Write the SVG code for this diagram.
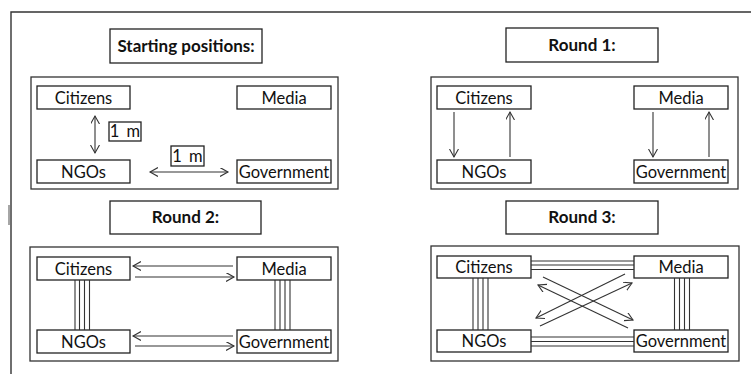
<svg xmlns="http://www.w3.org/2000/svg" width="751" height="374" viewBox="0 0 751 374">
<style>
.bx{fill:#fff;stroke:#222;stroke-width:1.3}
.pn{fill:none;stroke:#333;stroke-width:1.3}
.t{font-family:Lato,"Open Sans","Liberation Sans",sans-serif;font-size:16.5px;fill:#111;text-anchor:middle}
.tb{font-family:Lato,"Open Sans","Liberation Sans",sans-serif;font-size:17px;font-weight:bold;fill:#111;text-anchor:middle}
.ln{stroke:#333;stroke-width:1.1;fill:none}
.ar{stroke:#333;stroke-width:1.1;fill:none;marker-end:url(#ah)}
.da{stroke:#333;stroke-width:1.1;fill:none;marker-end:url(#ah);marker-start:url(#ah)}
</style>
<defs>
<marker id="ah" markerUnits="userSpaceOnUse" markerWidth="12" markerHeight="12" refX="8" refY="4.5" orient="auto-start-reverse" viewBox="0 0 12 12">
<path d="M0,0 L8,4.5 L0,9" fill="none" stroke="#333" stroke-width="1.1"/>
</marker>
</defs>
<rect width="751" height="374" fill="#fff"/>
<g id="frame">
<path d="M11,374 V12 H751" fill="none" stroke="#333" stroke-width="1.4"/>
<line x1="9" y1="205" x2="9" y2="225" stroke="#888" stroke-width="1.5"/>
</g>

<!-- Starting positions -->
<g id="title-start"><rect class="bx" x="110" y="29" width="152" height="34"/><text class="tb" x="186" y="52">Starting positions:</text></g>
<g id="panel-start"><rect class="pn" x="31" y="77" width="307" height="112"/></g>
<g id="s-citizens"><rect class="bx" x="37" y="86" width="93" height="23"/><text class="t" x="83.5" y="103.5">Citizens</text></g>
<g id="s-media"><rect class="bx" x="237" y="86" width="94" height="23"/><text class="t" x="284" y="103.5">Media</text></g>
<g id="s-ngos"><rect class="bx" x="37" y="160" width="93" height="23"/><text class="t" x="83.5" y="177.5">NGOs</text></g>
<g id="s-government"><rect class="bx" x="237" y="160" width="94" height="23"/><text class="t" x="284" y="177.5">Government</text></g>
<g id="s-label1"><rect class="bx" x="109" y="122" width="32" height="19"/><text class="t" x="125" y="137" word-spacing="3">1 m</text></g>
<g id="s-label2"><rect class="bx" x="171" y="146" width="33" height="20"/><text class="t" x="187.5" y="161.5" word-spacing="3">1 m</text></g>

<!-- Round 1 -->
<g id="title-r1"><rect class="bx" x="506" y="28" width="152" height="34"/><text class="tb" x="582" y="51">Round 1:</text></g>
<g id="panel-r1"><rect class="pn" x="431" y="77" width="307" height="112"/></g>
<g id="r1-citizens"><rect class="bx" x="437" y="86" width="94" height="23"/><text class="t" x="484" y="103.5">Citizens</text></g>
<g id="r1-media"><rect class="bx" x="634" y="86" width="94" height="23"/><text class="t" x="681" y="103.5">Media</text></g>
<g id="r1-ngos"><rect class="bx" x="437" y="160" width="94" height="23"/><text class="t" x="484" y="177.5">NGOs</text></g>
<g id="r1-government"><rect class="bx" x="634" y="160" width="94" height="23"/><text class="t" x="681" y="177.5">Government</text></g>

<!-- Round 2 -->
<g id="title-r2"><rect class="bx" x="110" y="201" width="151" height="33"/><text class="tb" x="185.5" y="223">Round 2:</text></g>
<g id="panel-r2"><rect class="pn" x="30" y="247" width="308" height="114"/></g>
<g id="r2-citizens"><rect class="bx" x="37" y="257" width="93" height="23"/><text class="t" x="83.5" y="274.5">Citizens</text></g>
<g id="r2-media"><rect class="bx" x="237" y="257" width="94" height="23"/><text class="t" x="284" y="274.5">Media</text></g>
<g id="r2-ngos"><rect class="bx" x="37" y="330" width="93" height="23"/><text class="t" x="83.5" y="347.5">NGOs</text></g>
<g id="r2-government"><rect class="bx" x="237" y="330" width="94" height="23"/><text class="t" x="284" y="347.5">Government</text></g>

<!-- Round 3 -->
<g id="title-r3"><rect class="bx" x="506" y="201" width="152" height="33"/><text class="tb" x="582" y="223">Round 3:</text></g>
<g id="panel-r3"><rect class="pn" x="431" y="246" width="308" height="115"/></g>
<g id="r3-citizens"><rect class="bx" x="437" y="256" width="94" height="22"/><text class="t" x="484" y="273">Citizens</text></g>
<g id="r3-media"><rect class="bx" x="634" y="256" width="94" height="22"/><text class="t" x="681" y="273">Media</text></g>
<g id="r3-ngos"><rect class="bx" x="437" y="330" width="94" height="22"/><text class="t" x="484" y="347">NGOs</text></g>
<g id="r3-government"><rect class="bx" x="634" y="330" width="94" height="22"/><text class="t" x="681" y="347">Government</text></g>

<g id="connectors">
<!-- starting positions -->
<line class="da" x1="95" y1="116" x2="95" y2="153"/>
<line class="da" x1="150" y1="172" x2="228" y2="172"/>
<!-- round 1 -->
<line class="ar" x1="454" y1="112" x2="454" y2="157"/>
<line class="ar" x1="510" y1="157" x2="510" y2="112"/>
<line class="ar" x1="653" y1="112" x2="653" y2="157"/>
<line class="ar" x1="709" y1="157" x2="709" y2="112"/>
<!-- round 2 -->
<line class="ar" x1="233" y1="266" x2="133" y2="266"/>
<line class="ar" x1="135" y1="277" x2="234" y2="277"/>
<line class="ar" x1="233" y1="336" x2="133" y2="336"/>
<line class="ar" x1="135" y1="346" x2="234" y2="346"/>
<path class="ln" d="M75,280V330M79.5,280V330M84.5,280V330M89.5,280V330"/>
<path class="ln" d="M275,280V330M280,280V330M285,280V330M290,280V330"/>
<!-- round 3 -->
<path class="ln" d="M531,261H634M531,265H634M531,269.5H634"/>
<path class="ln" d="M531,337H634M531,341.5H634M531,346H634"/>
<path class="ln" d="M473,278V330M478,278V330M483,278V330M488,278V330"/>
<path class="ln" d="M674.5,278V330M679.5,278V330M684.5,278V330M689.5,278V330"/>
<line class="ar" x1="543" y1="277" x2="633" y2="320"/>
<line class="ar" x1="625" y1="274" x2="536" y2="318"/>
<line class="ar" x1="540" y1="326" x2="632" y2="283"/>
<line class="ar" x1="628" y1="328" x2="538" y2="285"/>
</g>
</svg>
